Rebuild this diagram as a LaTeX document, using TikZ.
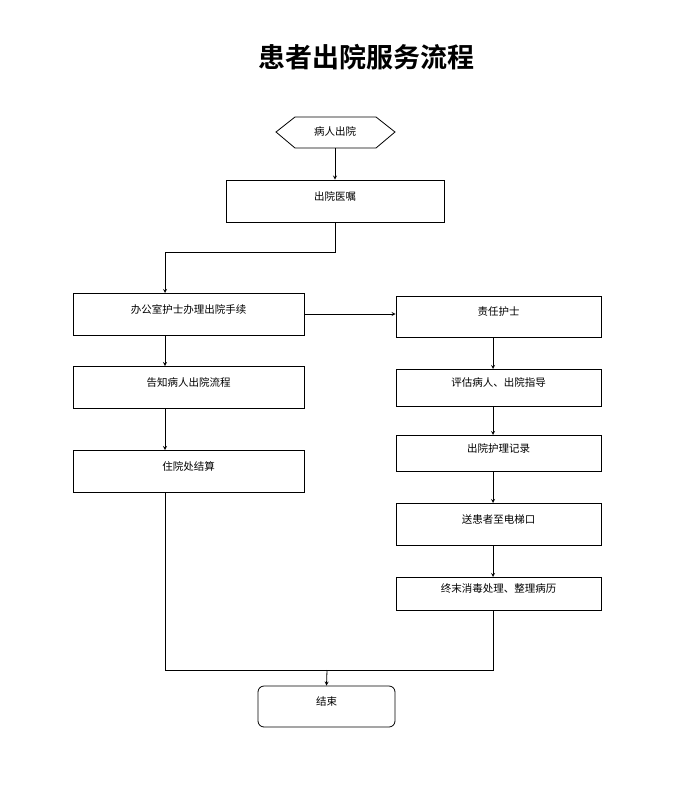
\documentclass[tikz,border=0pt]{standalone}
\usepackage{fontspec}
\newfontfamily\cjk{Noto Sans CJK SC}
\newfontfamily\cjkb{Noto Sans CJK SC Bold}
\begin{document}
\begin{tikzpicture}[x=1pt,y=-1pt,
  box/.style={draw,thick,rectangle,font=\cjk\fontsize{10.5}{12}\selectfont,text depth=9pt,text height=7pt},
  arr/.style={->,>=stealth,thick},
  ln/.style={thick}]
\useasboundingbox (0,0) rectangle (696,795);
\node[font=\cjkb\fontsize{27}{30}\selectfont] (title) at (366,57) {患者出院服务流程};
\draw[thick] (276,132) -- (295,117) -- (376,117) -- (395,132) -- (376,148) -- (295,148) -- cycle;
\node[font=\cjk\fontsize{10.5}{12}\selectfont] (h) at (335,131) {病人出院};
\coordinate (hb) at (335,148);
\node[box,minimum width=218pt,minimum height=42pt] (a) at (335,201) {出院医嘱};
\node[box,minimum width=231pt,minimum height=42pt] (b) at (188.5,314) {办公室护士办理出院手续};
\node[box,minimum width=231pt,minimum height=42pt] (c) at (188.5,387) {告知病人出院流程};
\node[box,minimum width=231pt,minimum height=42pt] (d) at (188.5,471) {住院处结算};
\node[box,minimum width=205pt,minimum height=41pt] (r1) at (498.5,316.5) {责任护士};
\node[box,minimum width=205pt,minimum height=37pt] (r2) at (498.5,387.5) {评估病人、出院指导};
\node[box,minimum width=205pt,minimum height=36pt] (r3) at (498.5,453) {出院护理记录};
\node[box,minimum width=205pt,minimum height=42pt] (r4) at (498.5,524) {送患者至电梯口};
\node[box,minimum width=205pt,minimum height=33pt] (r5) at (498.5,593.5) {终末消毒处理、整理病历};
\node[box,rounded corners=6pt,minimum width=137pt,minimum height=41pt] (e) at (326.5,706.5) {结束};
\draw[arr] (hb) -- (a.north);
\draw[arr] (a.south) -- (335,252) -- (165,252) -- (165,293);
\draw[arr] (b.east) -- (r1.west |- b.east);
\draw[arr] (165,335) -- (165,366);
\draw[arr] (165,408) -- (165,450);
\draw[arr] (493,337) -- (493,369);
\draw[arr] (493,406) -- (493,435);
\draw[arr] (493,471) -- (493,503);
\draw[arr] (493,545) -- (493,577);
\draw[ln] (165,492) -- (165,670) -- (493,670) -- (493,610);
\draw[arr] (327,670) -- (e.north);
\end{tikzpicture}
\end{document}
